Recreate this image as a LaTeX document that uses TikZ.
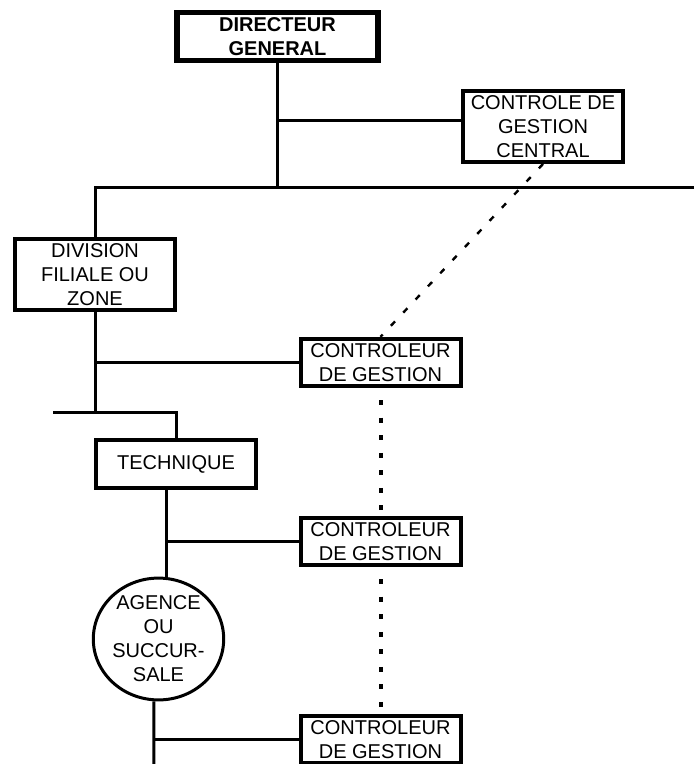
\documentclass[tikz,border=0pt]{standalone}
\usepackage{fontspec}
\setmainfont{Liberation Sans}
\usetikzlibrary{shapes.geometric}

\begin{document}
\begin{tikzpicture}[x=0.75pt, y=-0.75pt,
		every node/.style={font=\fontsize{15}{18}\selectfont, align=center, inner sep=0pt},
		box/.style={draw, line width=3pt, minimum width=120pt, minimum height=35.5pt},
		tallbox/.style={box, minimum height=53.25pt},
		link/.style={line width=2.25pt},
		dotline/.style={line width=3pt, dash pattern=on 3.75pt off 9.4pt, dash phase=-9pt},
		dashline/.style={line width=1.8pt, dash pattern=on 4.5pt off 9pt}]
			\useasboundingbox (0,0) rectangle (694,764);

			% Boxes
			\node[box, line width=4pt, minimum width=150.75pt, minimum height=36pt, font=\fontsize{15}{18}\selectfont\bfseries] (dg) at (277.5,36.5) {DIRECTEUR\\GENERAL};
			\node[tallbox] (cgc) at (543,126.5) {CONTROLE DE\\GESTION\\CENTRAL};
			\node[tallbox] (div) at (95,274.5) {DIVISION\\FILIALE OU\\ZONE};
			\node[box] (ctrlA) at (380.5,362.5) {CONTROLEUR\\DE GESTION};
			\node[box] (tech) at (176,464) {TECHNIQUE};
			\node[box] (ctrlB) at (380.5,541.5) {CONTROLEUR\\DE GESTION};
			\node[draw, ellipse, line width=2.25pt, minimum width=94.5pt, minimum height=83.25pt] (agence) at (158.5,639) {AGENCE\\OU\\SUCCUR-\\SALE};
			\node[box] (ctrlC) at (380.5,739.5) {CONTROLEUR\\DE GESTION};

			% Junctions
			\coordinate (jdg) at (279,120);
			\coordinate (busR) at (694,187);
			\coordinate (techL) at (53,412);
			\coordinate (ta) at ([xshift=-7.5pt]tech.south);
			\coordinate (ab) at ([xshift=-3.4pt]agence.south);
			\coordinate (bot) at (154,770);

			% Hierarchy
			\draw[link] (dg.south) -- (dg.south |- busR);
			\draw[link] (jdg) -- (jdg -| cgc.west);
			\draw[link] (busR) -| (div.north);
			\draw[link] (div.south) -- (div.south |- techL);
			\draw[link] (div.south |- ctrlA.west) -- (ctrlA.west);
			\draw[link] (techL) -| (tech.north);
			\draw[link] (ta) -- (ta |- agence.north);
			\draw[link] (ta |- ctrlB.west) -- (ctrlB.west);
			\draw[link] (ab) -- (bot);
			\draw[link] (ab |- ctrlC.west) -- (ctrlC.west);

			% Control links
			\draw[dashline] (cgc.south) -- (ctrlA.north);
			\draw[dotline] (ctrlA.south) -- (ctrlB.north);
			\draw[dotline] (ctrlB.south) -- (ctrlC.north);
		\end{tikzpicture}
\end{document}
